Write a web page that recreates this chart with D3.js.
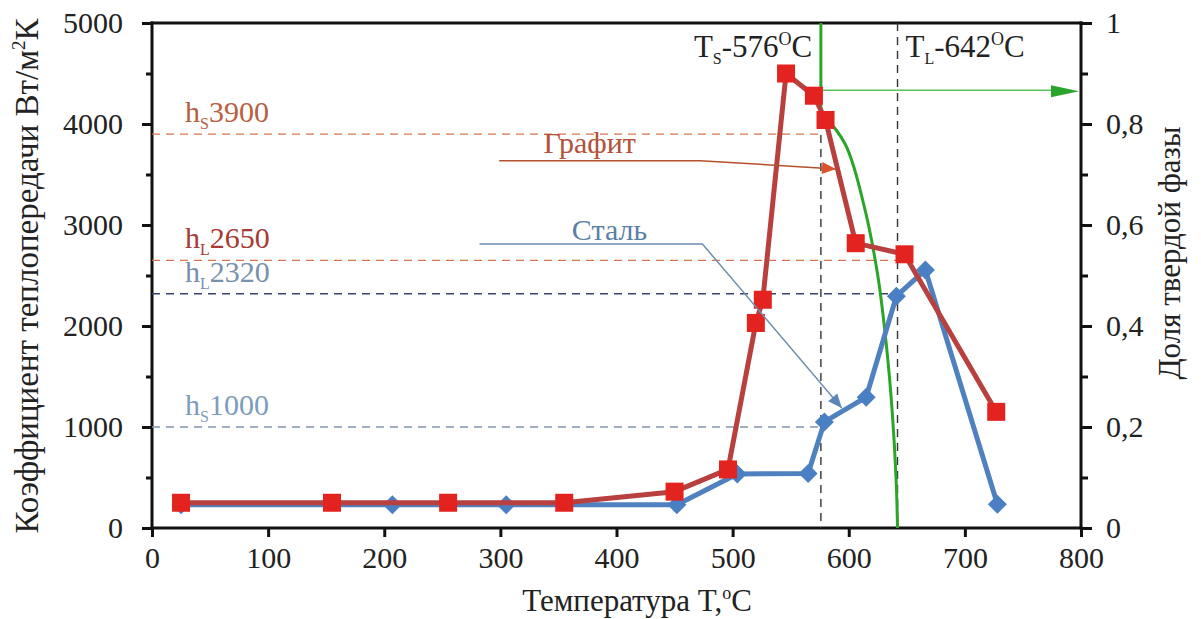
<!DOCTYPE html>
<html>
<head>
<meta charset="utf-8">
<script src="https://cdn.jsdelivr.net/npm/d3@7"></script>
</head>
<body style="margin:0">
<svg id="chart" width="1201" height="619"></svg>
<script>
// Heat transfer coefficient vs temperature, graphite and steel moulds
const xTicks = [0, 100, 200, 300, 400, 500, 600, 700, 800];
const yTicks = [0, 1000, 2000, 3000, 4000, 5000];
const yMinorTicks = [500, 1500, 2500, 3500, 4500];
const fracTicks = [0, 0.2, 0.4, 0.6, 0.8, 1];
const fracTickLabels = ["0", "0,2", "0,4", "0,6", "0,8", "1"];
const fracMinorTicks = [0.1, 0.3, 0.5, 0.7, 0.9];

const graphiteT = [25, 155, 255, 355, 450, 496, 520, 526, 546, 570, 580, 606, 648, 727];
const graphiteH = [250, 250, 250, 250, 360, 580, 2030, 2260, 4500, 4280, 4040, 2820, 2710, 1150];

const steelT = [25, 207, 305, 452, 504, 565, 579, 615, 641, 666, 728];
const steelH = [230, 230, 230, 230, 535, 540, 1050, 1295, 2295, 2555, 235];

// solid fraction curve (right axis)
const solidT = [576, 576, 597, 613, 625, 632.5, 637.5, 640.8, 642];
const solidF = [1.0, 0.824, 0.76, 0.64, 0.5, 0.36, 0.228, 0.095, 0];

const tSolidus = 576, tLiquidus = 642;
const fracArrow = 0.867;

// reference levels of h
const levelNames = ["S", "L", "L", "S"];
const levelValues = [3900, 2650, 2320, 1000];
const levelEnds = [576, 642, 642, 576];
const levelLineColors = ["#d8744e", "#d8744e", "#3b4270", "#8296ad"];
const levelTextColors = ["#b8603f", "#a83a35", "#7890ae", "#7e9cbd"];

const FONT = "Liberation Serif";
const FS = 30;

const svg = d3.select("#chart");
const x = d3.scaleLinear().domain([0, 800]).range([152, 1081]);
const y = d3.scaleLinear().domain([0, 5000]).range([528, 23]);
const yR = d3.scaleLinear().domain([0, 1]).range([528, 23]);

function txt(sel, size) {
  return sel.style("font-family", FONT).style("font-size", size + "px");
}

// axes
const gx = svg.append("g").attr("transform", `translate(0,${y(0)})`)
  .call(d3.axisBottom(x).tickValues(xTicks).tickSize(9).tickPadding(10).tickFormat(d3.format("d")));
const gy = svg.append("g").attr("transform", `translate(${x(0)},0)`)
  .call(d3.axisLeft(y).tickValues(yTicks).tickSize(10).tickPadding(19).tickFormat(d3.format("d")));
const gyMinor = svg.append("g").attr("transform", `translate(${x(0)},0)`)
  .call(d3.axisLeft(y).tickValues(yMinorTicks).tickSize(6).tickFormat(""));
const gr = svg.append("g").attr("transform", `translate(${x(800)},0)`)
  .call(d3.axisRight(yR).tickValues(fracTicks).tickSize(11).tickPadding(14)
    .tickFormat((d, i) => fracTickLabels[i]));
const grMinor = svg.append("g").attr("transform", `translate(${x(800)},0)`)
  .call(d3.axisRight(yR).tickValues(fracMinorTicks).tickSize(7).tickFormat(""));

[gx, gy, gyMinor, gr, grMinor].forEach(g => {
  g.attr("font-family", null).attr("font-size", null);
  g.select(".domain").remove();
  g.selectAll(".tick line").attr("stroke", "#111").attr("stroke-width", 3);
  txt(g.selectAll("text"), FS).attr("fill", "#222");
});

// frame
const frame = svg.append("g").attr("stroke", "#111").attr("stroke-width", 3).attr("stroke-linecap", "square");
frame.append("line").attr("x1", x(0)).attr("x2", x(800)).attr("y1", y(0)).attr("y2", y(0));
frame.append("line").attr("x1", x(0)).attr("x2", x(800)).attr("y1", y(5000)).attr("y2", y(5000));
frame.append("line").attr("x1", x(0)).attr("x2", x(0)).attr("y1", y(0)).attr("y2", y(5000));
frame.append("line").attr("x1", x(800)).attr("x2", x(800)).attr("y1", y(0)).attr("y2", y(5000));

// axis titles
txt(svg.append("text"), 33).attr("transform", `translate(38,276) rotate(-90)`)
  .attr("text-anchor", "middle").attr("fill", "#222")
  .text("Коэффициент теплопередачи Вт/м")
  .call(t => txt(t.append("tspan"), 19).attr("dy", -13).text("2"))
  .call(t => txt(t.append("tspan"), 33).attr("dy", 13).text("К"));
txt(svg.append("text"), 31).attr("transform", `translate(1180,253) rotate(-90)`)
  .attr("text-anchor", "middle").attr("fill", "#222")
  .text("Доля твердой фазы");
txt(svg.append("text"), 31).attr("x", 637).attr("y", 611)
  .attr("text-anchor", "middle").attr("fill", "#222")
  .text("Температура T,")
  .call(t => txt(t.append("tspan"), 18).attr("dy", -12).text("o"))
  .call(t => txt(t.append("tspan"), 31).attr("dy", 12).text("C"));

// reference levels
levelValues.forEach((v, i) => {
  svg.append("line")
    .attr("x1", x(0)).attr("x2", x(levelEnds[i]))
    .attr("y1", y(v)).attr("y2", y(v))
    .attr("stroke", levelLineColors[i]).attr("stroke-width", 1.4)
    .attr("stroke-dasharray", "8,6");
  const t = txt(svg.append("text"), FS).attr("x", 185).attr("y", y(v) - 12)
    .attr("fill", levelTextColors[i]).text("h");
  txt(t.append("tspan"), 16).attr("dy", 7).text(levelNames[i]);
  txt(t.append("tspan"), FS).attr("dy", -7).text(v);
});

// solidus / liquidus
[tSolidus, tLiquidus].forEach(T => {
  svg.append("line").attr("x1", x(T)).attr("x2", x(T))
    .attr("y1", y(5000)).attr("y2", y(0))
    .attr("stroke", "#333").attr("stroke-width", 1.4).attr("stroke-dasharray", "8,6");
});
function tempLabel(sx, sub, val) {
  const t = txt(svg.append("text"), FS + 1).attr("x", sx).attr("y", 57)
    .attr("fill", "#222").text("T");
  txt(t.append("tspan"), 16).attr("dy", 7).text(sub);
  txt(t.append("tspan"), FS + 1).attr("dy", -7).text("-" + val);
  txt(t.append("tspan"), 18).attr("dy", -12).text("O");
  txt(t.append("tspan"), FS + 1).attr("dy", 12).text("C");
}
tempLabel(x(tSolidus) - 127, "S", tSolidus);
tempLabel(x(tLiquidus) + 8, "L", tLiquidus);

// solid fraction curve
const solidPts = solidT.map((t, i) => [t, solidF[i]]);
svg.append("path")
  .attr("d", d3.line().x(d => x(d[0])).y(d => yR(d[1])).curve(d3.curveLinear)(solidPts.slice(0, 2)))
  .attr("fill", "none").attr("stroke", "#2aa52a").attr("stroke-width", 3);
svg.append("path")
  .attr("d", d3.line().x(d => x(d[0])).y(d => yR(d[1])).curve(d3.curveCatmullRom)(solidPts.slice(1)))
  .attr("fill", "none").attr("stroke", "#2aa52a").attr("stroke-width", 3);

// arrow pointing to the right axis
svg.append("line").attr("x1", x(tSolidus)).attr("x2", x(800) - 26)
  .attr("y1", yR(fracArrow)).attr("y2", yR(fracArrow))
  .attr("stroke", "#5cc05c").attr("stroke-width", 1.5);
svg.append("path")
  .attr("d", `M${x(800) - 2},${yR(fracArrow) + 1} L${x(800) - 30},${yR(fracArrow) - 5} L${x(800) - 30},${yR(fracArrow) + 7} Z`)
  .attr("fill", "#2aa52a");

// series: steel (blue) then graphite (red)
const line = d3.line().x(d => x(d[0])).y(d => y(d[1]));
const steelPts = steelT.map((t, i) => [t, steelH[i]]);
const graphitePts = graphiteT.map((t, i) => [t, graphiteH[i]]);

svg.append("path").attr("d", line(steelPts))
  .attr("fill", "none").attr("stroke", "#4f80bf").attr("stroke-width", 5).attr("stroke-linejoin", "round");
svg.append("g").selectAll("path").data(steelPts).join("path")
  .attr("d", d3.symbol(d3.symbolDiamond2, 230))
  .attr("transform", d => `translate(${x(d[0])},${y(d[1])})`)
  .attr("fill", "#4a7fc4");

svg.append("path").attr("d", line(graphitePts))
  .attr("fill", "none").attr("stroke", "#b8403e").attr("stroke-width", 5).attr("stroke-linejoin", "round");
svg.append("g").selectAll("rect").data(graphitePts).join("rect")
  .attr("x", d => x(d[0]) - 9).attr("y", d => y(d[1]) - 9)
  .attr("width", 18).attr("height", 18)
  .attr("fill", "#e3231f");

// callouts
function callout(label, color, lineColor, tx, ty, pts, headColor) {
  txt(svg.append("text"), FS).attr("x", x(tx)).attr("y", y(ty))
    .attr("text-anchor", "middle").attr("fill", color).text(label);
  const p = pts.map(d => [x(d[0]), y(d[1])]);
  svg.append("path").attr("d", d3.line()(p))
    .attr("fill", "none").attr("stroke", lineColor).attr("stroke-width", 1.5);
  const [x1, y1] = p[p.length - 2], [x2, y2] = p[p.length - 1];
  const a = Math.atan2(y2 - y1, x2 - x1), L = 14, w = 6;
  const bx = x2 - L * Math.cos(a), by = y2 - L * Math.sin(a);
  svg.append("path")
    .attr("d", `M${x2},${y2} L${bx + w * Math.sin(a)},${by - w * Math.cos(a)} L${bx - w * Math.sin(a)},${by + w * Math.cos(a)} Z`)
    .attr("fill", headColor);
}
callout("Графит", "#b5503a", "#b5502f", 377, 3710,
  [[299, 3637], [472, 3637], [589, 3555]], "#d9532c");
callout("Сталь", "#5a7fa6", "#6f8fb0", 394, 2850,
  [[282, 2812], [474, 2812], [594, 1188]], "#5d86b8");
</script>
</body>
</html>
